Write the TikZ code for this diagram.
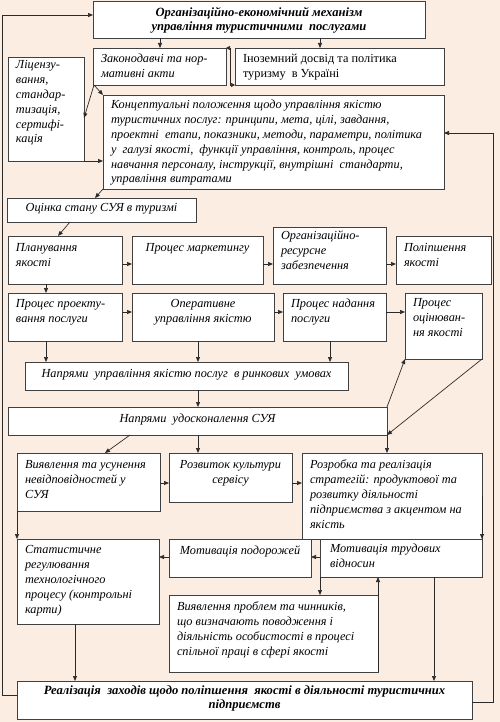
\documentclass[tikz,border=0pt]{standalone}
\usepackage{fontspec}
\setmainfont{Liberation Serif}
\usetikzlibrary{arrows.meta}
\definecolor{bgc}{HTML}{FBEDE2}
\definecolor{bdc}{HTML}{404040}
\definecolor{lnc}{HTML}{2A2A2A}
\tikzset{
  box/.style={draw=bdc, line width=0.8pt, fill=white, inner sep=0pt, outer sep=0pt,
    font=\fontsize{12.3}{14.8}\selectfont\itshape},
  arr/.style={draw=lnc, line width=0.7pt, -{Triangle[length=5pt,width=4pt]}},
  arrboth/.style={draw=lnc, line width=0.7pt, {Triangle[length=4pt,width=4pt]}-{Triangle[length=4pt,width=4pt]}},
}
\newcommand\lft{\raggedright\rightskip=-30pt plus 1fil\relax}
\newcommand\ctr{\centering\leftskip=-30pt plus 1fil\rightskip=-30pt plus 1fil\relax}
\newcommand\bld{\fontsize{12.6}{14}\selectfont\bfseries}
% name, align, x, y, w, h, pad, text
\newcommand\bx[8]{\node[box,minimum width=#5pt,minimum height=#6pt] (#1) at ({#3+#5/2},{#4+#6/2})
  {\parbox[c][#6pt][t]{\dimexpr#5pt-16pt\relax}{#2\vspace*{#7pt}\strut#8}};}
\begin{document}
\begin{tikzpicture}[x=1pt,y=-1pt]
\fill[bgc] (0,0) rectangle (500,722);
\useasboundingbox (0,0) rectangle (500,722);
% coordinates for connector positions
\foreach \v in {2,46,58,70,75,95,105,130,160,198,230,320,330,387,434,493}{\coordinate (x\v) at (\v,0);}
\foreach \v in {15,118,133,264,312,483,557,695,702}{\coordinate (y\v) at (0,\v);}
% boxes
\bx{top}{\ctr\bld}{93}{1}{332}{37}{6}{Організаційно-економічний механізм\\управління туристичними\ \ послугами}
\bx{zak}{\lft}{93}{48}{133}{37}{4.5}{Законодавчі та нор-\\мативні акти}
\bx{inoz}{\lft\upshape}{235}{48}{209}{37}{4.5}{Іноземний досвід та політика\\туризму\ \ в Україні}
\bx{lic}{\lft}{8}{57}{76}{104}{1.5}{Ліцензу-\\вання,\\стандар-\\тизація,\\сертифі-\\кація}
\bx{konc}{\lft}{103}{95}{341}{94}{3.5}{Концептуальні положення щодо управління якістю\\туристичних послуг: принципи, мета, цілі, завдання,\\проектні\ \ етапи, показники, методи, параметри, політика\\у\ \ галузі якості,\ \ функції управління, контроль, процес\\навчання персоналу, інструкції, внутрішні\ \ стандарти,\\управління витратами}
\bx{ocinka}{\ctr}{7}{198}{189}{24}{3.5}{Оцінка стану СУЯ в туризмі}
\bx{plan}{\lft}{8}{236}{114}{48}{5.5}{Планування\\якості}
\bx{mark}{\ctr}{132}{236}{131}{48}{5.5}{Процес маркетингу}
\bx{org}{\lft}{273}{227}{113}{57}{2.5}{Організаційно-\\ресурсне\\забезпечення}
\bx{pol}{\lft}{396}{236}{95}{48}{5.5}{Поліпшення\\якості}
\bx{proekt}{\lft}{8}{293}{114}{48}{4.5}{Процес проекту-\\вання послуги}
\bx{oper}{\ctr}{132}{293}{142}{48}{4.5}{Оперативне\\управління якістю}
\bx{nad}{\lft}{283}{293}{103}{48}{4.5}{Процес надання\\послуги}
\bx{ocin}{\lft}{405}{293}{77}{66}{3.5}{Процес\\оцінюван-\\ня якості}
\bx{nap1}{\ctr}{25}{362}{323}{28}{5.5}{Напрями\ \ управління якістю послуг\ \ в ринкових\ \ умовах}
\bx{nap2}{\ctr}{8}{407}{379}{28}{5.5}{Напрями\ \ удосконалення СУЯ}
\bx{viyav}{\lft}{17}{453}{143}{58}{5.5}{Виявлення та усунення\\невідповідностей у\\СУЯ}
\bx{rozv}{\ctr}{169}{453}{123}{49}{5.5}{Розвиток культури\\сервісу}
\bx{rozr}{\lft}{302}{453}{180}{86}{5.5}{Розробка та реалізація\\стратегій: продуктової та\\розвитку діяльності\\підприємства з акцентом на\\якість}
\bx{stat}{\lft}{17}{539}{142}{85}{4.5}{Статистичне\\регулювання\\технологічного\\процесу (контрольні\\карти)}
\bx{mp}{\ctr}{169}{539}{142}{38}{5.5}{Мотивація подорожей}
\bx{mt}{\lft}{320}{539}{162}{38}{3.5}{\hspace{2pt}Мотивація трудових\\\hspace*{2pt}відносин}
\bx{vp}{\lft}{169}{595}{209}{77}{5.5}{Виявлення проблем та чинників,\\що визначають поводження і\\діяльність особистості в процесі\\спільної праці в сфері якості}
\bx{bot}{\ctr\bld}{17}{681}{455}{38}{3.5}{Реалізація\ \ заходів щодо поліпшення\ \ якості в діяльності туристичних\\підприємств}
% connectors
\draw[arr] (x160 |- top.south) -- (x160 |- zak.north);
\draw[arr] (x320 |- top.south) -- (x320 |- inoz.north);
\draw[arrboth] (zak.north east) -- (x230 |- zak.north) -- (x230 |- inoz.south) -- (inoz.south west);
\draw[arr] ([xshift=1pt]zak.south west) -- (konc.north west);
\draw[arr] ([xshift=1pt]zak.south west) -- (lic.east |- y118);
\draw[arr] (lic.south east) -- (lic.south east -| konc.west);
\draw[arr] (konc.south west) -- (x95 |- ocinka.north);
\draw[arr] (x70 |- ocinka.south) -- (x58 |- plan.north);
\draw[arr] (plan.east |- y264) -- (mark.west |- y264);
\draw[arr] (mark.east |- y264) -- (org.west |- y264);
\draw[arr] (org.east |- y264) -- (pol.west |- y264);
\draw[arr] (x46 |- plan.south) -- (x46 |- proekt.north);
\draw[arr] (proekt.east |- y312) -- (oper.west |- y312);
\draw[arr] (oper.east |- y312) -- (nad.west |- y312);
\draw[arr] (nad.east |- y312) -- (ocin.west |- y312);
\draw[arr] (x46 |- proekt.south) -- (x46 |- nap1.north);
\draw[arr] (x198 |- oper.south) -- (x198 |- nap1.north);
\draw[arr] (x330 |- nad.south) -- (x330 |- nap1.north);
\draw[arr] (x198 |- nap1.south) -- (x198 |- nap2.north);
\draw[arr] (nap2.north east) -- (ocin.south west);
\draw[arr] (ocin.south east) -- (nap2.south east);
\draw[arr] (x387 |- nap2.south) -- (x387 |- rozr.north);
\draw[arr] (x130 |- nap2.south) -- (x105 |- viyav.north);
\draw[arr] (x198 |- nap2.south) -- (x198 |- rozv.north);
\draw[arr] (viyav.east |- y483) -- (rozv.west |- y483);
\draw[arr] (rozv.east |- y483) -- (rozr.west |- y483);
\draw[arr] (viyav.south west) -- (stat.north west);
\draw[arr] (rozr.east) -- (rozr.south east);
\draw[arr] (mt.west |- y557) -- (mp.east |- y557);
\draw[arr] (mp.west |- y557) -- (stat.east |- y557);
\draw[arr] (mt.south west) -- (mt.south west |- vp.north);
\draw[arr] (vp.south east) -- (vp.south east |- mt.south);
\draw[arr] (x434 |- mt.south) -- (x434 |- bot.north);
\draw[arr] (x75 |- stat.south) -- (x75 |- bot.north);
\draw[arr] (bot.west |- y695) -- (x2 |- y695) -- (x2 |- y15) -- (top.west |- y15);
\draw[arr] (bot.east |- y702) -- (x493 |- y702) -- (x493 |- y133) -- (konc.east |- y133);
\end{tikzpicture}
\end{document}
